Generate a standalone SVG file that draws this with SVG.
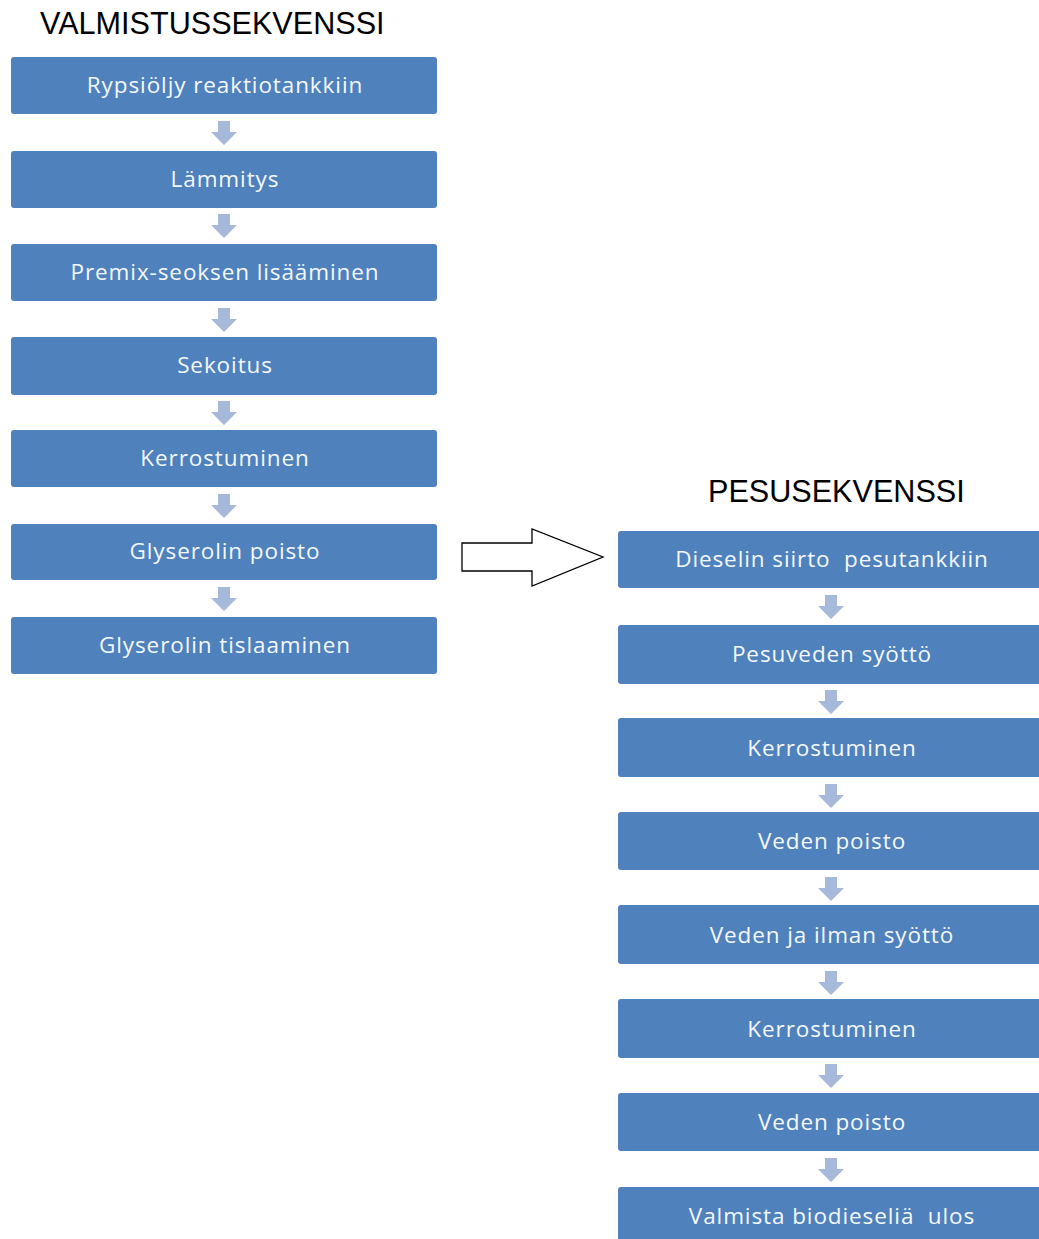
<svg xmlns="http://www.w3.org/2000/svg" width="1039" height="1239" viewBox="0 0 1039 1239">
  <defs>
    <style>
      .title { font-family: "Liberation Sans", Arial, sans-serif; font-size: 30.6px; fill: #000; }
      .box { fill: #4F81BD; }
      .lbl { font-family: "Open Sans", "Noto Sans", sans-serif; font-size: 22.5px; letter-spacing: 0.9px; fill: #F4F8FC; text-anchor: middle; white-space: pre; }
      .step { fill: #A7B9DA; }
      .big { fill: #FFFFFF; stroke: #000; stroke-width: 1.3; }
    </style>
    <!-- small step arrow pointing down, origin at top centre -->
    <path id="down" d="M -6 0 H 6 V 11 H 13 L 0 24 L -13 11 H -6 Z"/>
  </defs>

  <rect width="1039" height="1239" fill="#FFFFFF"/>

  <text class="title" x="40" y="34">VALMISTUSSEKVENSSI</text>
  <text class="title" x="708" y="502">PESUSEKVENSSI</text>

  <!-- manufacturing sequence -->
  <g id="v1"><rect class="box" x="11" y="57" width="426" height="57" rx="3"/><text class="lbl" x="225" y="93">Rypsiöljy reaktiotankkiin</text></g>
  <g id="v2"><rect class="box" x="11" y="151" width="426" height="57" rx="3"/><text class="lbl" x="225" y="187">Lämmitys</text></g>
  <g id="v3"><rect class="box" x="11" y="244" width="426" height="57" rx="3"/><text class="lbl" x="225" y="280">Premix-seoksen lisääminen</text></g>
  <g id="v4"><rect class="box" x="11" y="337" width="426" height="58" rx="3"/><text class="lbl" x="225" y="373">Sekoitus</text></g>
  <g id="v5"><rect class="box" x="11" y="430" width="426" height="57" rx="3"/><text class="lbl" x="225" y="466">Kerrostuminen</text></g>
  <g id="v6"><rect class="box" x="11" y="524" width="426" height="56" rx="3"/><text class="lbl" x="225" y="559">Glyserolin poisto</text></g>
  <g id="v7"><rect class="box" x="11" y="617" width="426" height="57" rx="3"/><text class="lbl" x="225" y="653">Glyserolin tislaaminen</text></g>

  <!-- washing sequence -->
  <g id="p1"><rect class="box" x="618" y="531" width="430" height="57" rx="3"/><text class="lbl" x="832" y="567">Dieselin siirto  pesutankkiin</text></g>
  <g id="p2"><rect class="box" x="618" y="625" width="430" height="59" rx="3"/><text class="lbl" x="832" y="662">Pesuveden syöttö</text></g>
  <g id="p3"><rect class="box" x="618" y="718" width="430" height="59" rx="3"/><text class="lbl" x="832" y="756">Kerrostuminen</text></g>
  <g id="p4"><rect class="box" x="618" y="812" width="430" height="58" rx="3"/><text class="lbl" x="832" y="849">Veden poisto</text></g>
  <g id="p5"><rect class="box" x="618" y="905" width="430" height="59" rx="3"/><text class="lbl" x="832" y="943">Veden ja ilman syöttö</text></g>
  <g id="p6"><rect class="box" x="618" y="999" width="430" height="59" rx="3"/><text class="lbl" x="832" y="1037">Kerrostuminen</text></g>
  <g id="p7"><rect class="box" x="618" y="1093" width="430" height="58" rx="3"/><text class="lbl" x="832" y="1130">Veden poisto</text></g>
  <g id="p8"><rect class="box" x="618" y="1187" width="430" height="60" rx="3"/><text class="lbl" x="832" y="1224">Valmista biodieseliä  ulos</text></g>

  <!-- connectors -->
  <g id="connectors">
    <use class="step" href="#down" x="224" y="121"/>
    <use class="step" href="#down" x="224" y="214"/>
    <use class="step" href="#down" x="224" y="308"/>
    <use class="step" href="#down" x="224" y="401"/>
    <use class="step" href="#down" x="224" y="494"/>
    <use class="step" href="#down" x="224" y="587"/>

    <use class="step" href="#down" x="831" y="595"/>
    <use class="step" href="#down" x="831" y="690"/>
    <use class="step" href="#down" x="831" y="784"/>
    <use class="step" href="#down" x="831" y="877"/>
    <use class="step" href="#down" x="831" y="971"/>
    <use class="step" href="#down" x="831" y="1064"/>
    <use class="step" href="#down" x="831" y="1158"/>

    <path class="big" d="M 462 543 H 532 V 529 L 603 557 L 532 586 V 571 H 462 Z"/>
  </g>
</svg>
